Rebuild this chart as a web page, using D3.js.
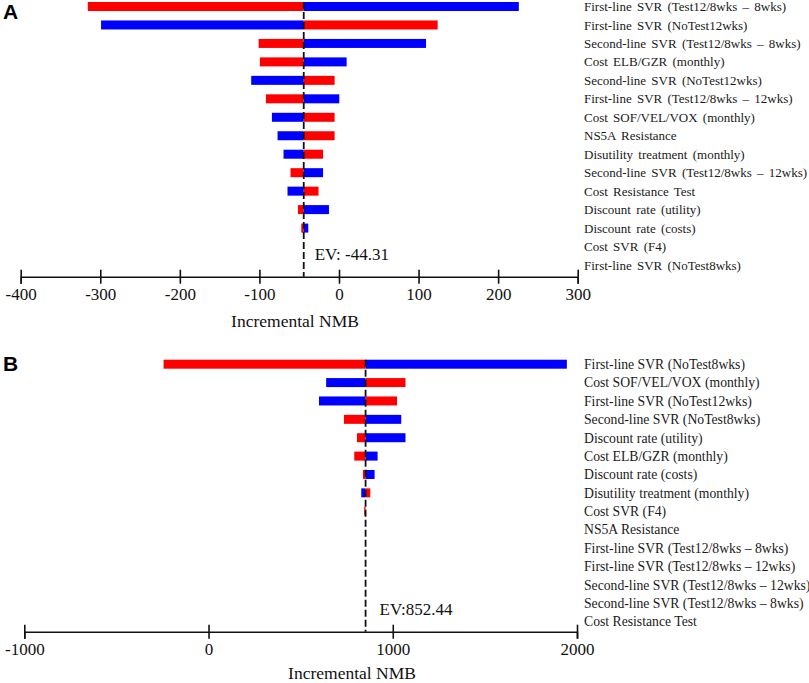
<!DOCTYPE html>
<html>
<head>
<meta charset="utf-8">
<script src="https://cdn.jsdelivr.net/npm/d3@7"></script>
<style>
  body { margin: 0; background: #fff; }
  svg { display: block; }
  .tick text { font-family: "Liberation Serif", "Times New Roman", serif; }
</style>
</head>
<body>
<div id="chart"></div>
<script>
// ---- panel A ----
const labelsA = [
    "First-line SVR (Test12/8wks – 8wks)",
    "First-line SVR (NoTest12wks)",
    "Second-line SVR (Test12/8wks – 8wks)",
    "Cost ELB/GZR (monthly)",
    "Second-line SVR (NoTest12wks)",
    "First-line SVR (Test12/8wks – 12wks)",
    "Cost SOF/VEL/VOX (monthly)",
    "NS5A Resistance",
    "Disutility treatment (monthly)",
    "Second-line SVR (Test12/8wks – 12wks)",
    "Cost Resistance Test",
    "Discount rate (utility)",
    "Discount rate (costs)",
    "Cost SVR (F4)",
    "First-line SVR (NoTest8wks)"
];
const redA  = [-315.7, 124, -101, -99.4, -5.5, -91.8, -5.5, -5.5, -20, -60.9, -25.7, -51.6, -47.4, -44.31, -44.31];
const blueA = [226, -299, 109.4, 9.6, -110.3, 0.4, -84.3, -77.2, -69.7, -20, -64.7, -12.6, -38.6, -44.31, -44.31];
const evA = -44.31;
const ticksA = [-400, -300, -200, -100, 0, 100, 200, 300];

// ---- panel B ----
const labelsB = [
    "First-line SVR (NoTest8wks)",
    "Cost SOF/VEL/VOX (monthly)",
    "First-line SVR (NoTest12wks)",
    "Second-line SVR (NoTest8wks)",
    "Discount rate (utility)",
    "Cost ELB/GZR (monthly)",
    "Discount rate (costs)",
    "Disutility treatment (monthly)",
    "Cost SVR (F4)",
    "NS5A Resistance",
    "First-line SVR (Test12/8wks – 8wks)",
    "First-line SVR (Test12/8wks – 12wks)",
    "Second-line SVR (Test12/8wks – 12wks)",
    "Second-line SVR (Test12/8wks – 8wks)",
    "Cost Resistance Test"
];
const redB  = [-244, 1069, 1023, 735, 805.7, 791, 838.3, 878, 845, 852.44, 852.44, 852.44, 852.44, 852.44, 852.44];
const blueB = [1945, 638.5, 599.5, 1046, 1069, 917.6, 901.3, 829, 852.44, 852.44, 852.44, 852.44, 852.44, 852.44, 852.44];
const evB = 852.44;
const ticksB = [-1000, 0, 1000, 2000];

const width = 809, height = 683;

const svg = d3.select('#chart').append('svg')
    .attr('width', width)
    .attr('height', height);

function tornado(g, o) {
    const x = d3.scaleLinear().domain(o.domain).range(o.xRange);
    const y = d3.scalePoint().domain(o.labels).range(o.yRange);
    const barH = 9;

    const rows = o.labels.map((d, i) => ({ label: d, red: o.red[i], blue: o.blue[i] }));

    // bars: one red, one blue per row, both anchored on EV
    const bars = [];
    rows.forEach(r => {
        bars.push({ label: r.label, v: r.red, color: '#ff0000' });
        bars.push({ label: r.label, v: r.blue, color: '#0000ff' });
    });

    g.selectAll('rect.bar')
        .data(bars.filter(d => d.v !== o.ev))
        .enter().append('rect')
        .attr('class', 'bar')
        .attr('x', d => Math.min(x(d.v), x(o.ev)))
        .attr('y', d => y(d.label) - barH / 2)
        .attr('width', d => Math.abs(x(d.v) - x(o.ev)))
        .attr('height', barH)
        .attr('fill', d => d.color);

    // row labels on the right
    g.selectAll('text.row')
        .data(o.labels)
        .enter().append('text')
        .attr('class', 'row')
        .attr('x', o.labelX)
        .attr('y', d => y(d))
        .attr('dy', '0.35em')
        .style('font-family', '"Liberation Serif", "Times New Roman", serif')
        .style('font-size', o.labelSize + 'px')
        .style('word-spacing', o.wordSpacing + 'px')
        .attr('fill', '#1a1a1a')
        .text(d => d);

    // axis with ticks crossing the line
    const axis = d3.axisBottom(x)
        .tickValues(o.ticks)
        .tickFormat(d3.format('d'))
        .tickSizeOuter(0)
        .tickSize(7);

    const ax = g.append('g')
        .attr('transform', `translate(0,${o.axisY})`)
        .call(axis);
    ax.select('.domain').attr('stroke', '#111').attr('stroke-width', 1.6);
    ax.selectAll('.tick line').attr('y1', -7).attr('y2', 7)
        .attr('stroke', '#111').attr('stroke-width', 1.6);
    ax.selectAll('.tick text')
        .attr('y', 11)
        .attr('dy', '0.71em')
        .style('font-size', '17px')
        .attr('fill', '#111')
        .text(d => String(d).replace('\u2212', '-'));

    // EV dashed line
    g.append('line')
        .attr('x1', x(o.ev)).attr('x2', x(o.ev))
        .attr('y1', o.yRange[0] - barH / 2)
        .attr('y2', o.axisY)
        .attr('stroke', '#111')
        .attr('stroke-width', 1.8)
        .attr('stroke-dasharray', '7,3');

    g.append('text')
        .attr('x', x(o.ev) + o.evDx)
        .attr('y', o.evY)
        .style('font-family', '"Liberation Serif", "Times New Roman", serif')
        .style('font-size', '17px')
        .attr('fill', '#111')
        .text(o.evText);

    g.append('text')
        .attr('x', o.titleX)
        .attr('y', o.titleY)
        .attr('text-anchor', 'middle')
        .style('font-family', '"Liberation Serif", "Times New Roman", serif')
        .style('font-size', '17.5px')
        .attr('fill', '#111')
        .text('Incremental NMB');

    g.append('text')
        .attr('x', 3)
        .attr('y', o.letterY)
        .style('font-family', '"Liberation Sans", Arial, sans-serif')
        .style('font-weight', 'bold')
        .style('font-size', '21px')
        .attr('fill', '#000')
        .text(o.letter);
}

tornado(svg.append('g'), {
    labels: labelsA, red: redA, blue: blueA, ev: evA, ticks: ticksA,
    domain: [-400, 300], xRange: [20.7, 577.7], yRange: [6.5, 265],
    axisY: 276.7, labelX: 584, labelSize: 13, wordSpacing: 2,
    evDx: 11, evY: 260, evText: 'EV: -44.31',
    titleX: 295, titleY: 326.5, letter: 'A', letterY: 19
});

tornado(svg.append('g'), {
    labels: labelsB, red: redB, blue: blueB, ev: evB, ticks: ticksB,
    domain: [-1000, 2000], xRange: [24.3, 577], yRange: [364.2, 621.5],
    axisY: 631.7, labelX: 584, labelSize: 13.7, wordSpacing: 0,
    evDx: 14, evY: 615, evText: 'EV:852.44',
    titleX: 352, titleY: 678.5, letter: 'B', letterY: 371
});
</script>
</body>
</html>
